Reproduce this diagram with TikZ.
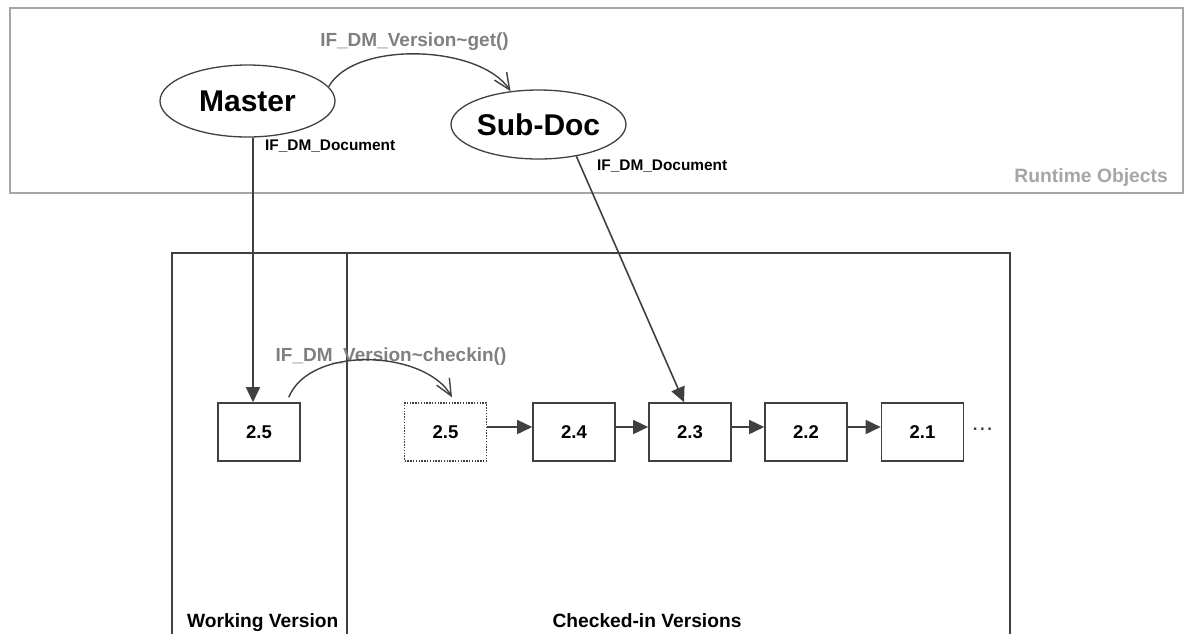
\documentclass[tikz,border=0pt]{standalone}
\usepackage{fontspec}
\setmainfont{Liberation Sans}
\usetikzlibrary{arrows.meta,shapes.geometric}
\definecolor{dk}{HTML}{404040}
\definecolor{lbl}{HTML}{808080}
\definecolor{rt}{HTML}{A6A6A6}
\tikzset{
  obj/.style={ellipse,draw=dk,line width=1.3pt,inner sep=0pt,font=\fontsize{30}{32}\selectfont\bfseries},
  ver/.style={rectangle,draw=dk,line width=1.6pt,minimum width=82pt,minimum height=58pt,inner sep=0pt,font=\fontsize{18.5}{20}\selectfont\bfseries},
  ghost/.style={ver,dash pattern=on 1.4pt off 1.4pt,line width=1.4pt},
  seq/.style={draw=dk,line width=1.6pt,-{Triangle[length=15pt,width=14pt]}},
  call/.style={draw=dk,line width=1.4pt,-{Straight Barb[angle=48:18pt]}},
  callbl/.style={text=lbl,font=\fontsize{19}{21}\selectfont\bfseries,inner sep=0pt},
  ifl/.style={font=\fontsize{15.4}{17}\selectfont\bfseries,inner sep=0pt},
  captxt/.style={font=\fontsize{19.2}{21}\selectfont\bfseries,inner sep=0pt},
  vframe/.style={draw=dk,line width=1.6pt}
}
\begin{document}
\begin{tikzpicture}[x=1pt,y=-1pt]
\useasboundingbox (0,0) rectangle (1184,633);
% Runtime objects area
\draw[rt,line width=1.6pt] (10,8) rectangle (1183,193);
\node[anchor=base east,text=rt,font=\fontsize{19.3}{21}\selectfont\bfseries,inner sep=0pt] (rtl) at (1168,182.3) {Runtime Objects};
% version frame
\draw[vframe] (172,640) -- (172,253) -- (1010,253) -- (1010,640);
\draw[vframe] (347,253) -- (347,640);
\node[captxt,anchor=base west] (wv) at (187,627.3) {Working Version};
\node[captxt,anchor=base] (cv) at (647,627.3) {Checked-in Versions};
% objects
\node[obj,minimum width=175pt,minimum height=72pt] (master) at (247.5,101) {Master};
\node[obj,minimum width=175pt,minimum height=69pt] (subdoc) at (538.5,124.5) {Sub-Doc};
% versions
\node[ver] (w25) at (259,432) {2.5};
\node[ghost] (d25) at (445.5,432) {2.5};
\node[ver] (b24) at (574,432) {2.4};
\node[ver] (b23) at (690,432) {2.3};
\node[ver] (b22) at (806,432) {2.2};
\node[ver] (b21) at (922.5,432) {2.1};
\node[font=\fontsize{17}{20}\selectfont\bfseries,inner sep=0pt,text=dk] (dots) at (982.5,429) {.\hspace{2.6pt}.\hspace{2.6pt}.};
% sequence arrows
\draw[seq] ([yshift=5pt]d25.east) -- ([yshift=5pt]b24.west);
\draw[seq] ([yshift=5pt]b24.east) -- ([yshift=5pt]b23.west);
\draw[seq] ([yshift=5pt]b23.east) -- ([yshift=5pt]b22.west);
\draw[seq] ([yshift=5pt]b22.east) -- ([yshift=5pt]b21.west);
% references
\draw[seq] ([xshift=5.5pt]master.south) -- ([xshift=-6pt]w25.north);
\draw[seq] (subdoc.-40) -- ([xshift=-6pt]b23.north);
\node[ifl,anchor=base west] (ifd1) at (265,150.7) {IF\_DM\_Document};
\node[ifl,anchor=base west] (ifd2) at (597,170) {IF\_DM\_Document};
% calls
\node[callbl,anchor=base] (getl) at (414.5,46.7) {IF\_DM\_Version\textasciitilde get()};
\draw[call] (master.10) .. controls (355,40) and (480,45) .. (subdoc.130);
\node[callbl,anchor=base] (chkl) at (391,361.7) {IF\_DM\_Version\textasciitilde checkin()};
\draw[call] ([shift={(-12,-5)}]w25.north east) .. controls (310,345) and (425,350) .. ([shift={(6.5,-5)}]d25.north);
\end{tikzpicture}
\end{document}
